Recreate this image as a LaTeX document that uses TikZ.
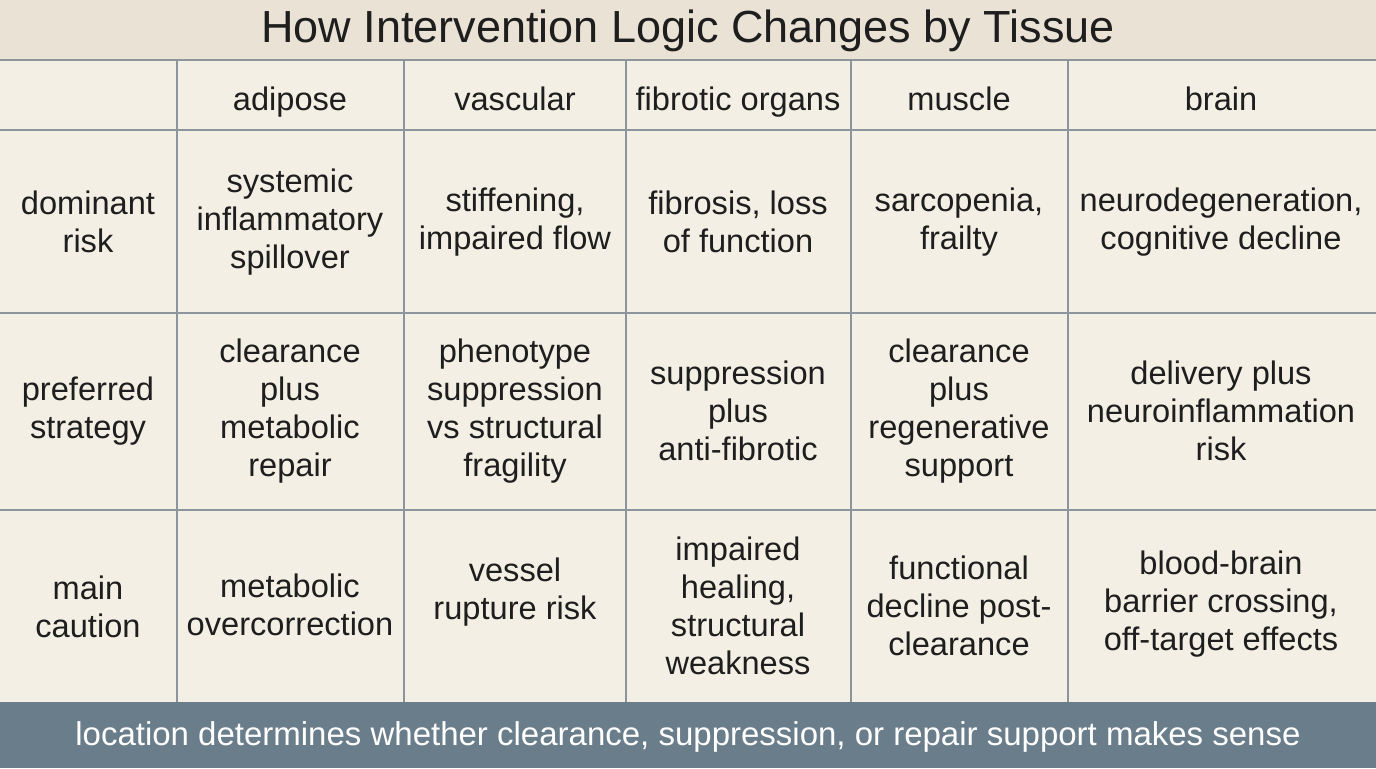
\documentclass[tikz,border=0pt]{standalone}
\usepackage{fontspec}
\setmainfont{Liberation Sans}
\definecolor{bg}{HTML}{F4EFE4}
\definecolor{band}{HTML}{E9E2D5}
\definecolor{foot}{HTML}{697D8A}
\definecolor{grid}{HTML}{8C959C}
\definecolor{ink}{HTML}{1E1E1E}
\begin{document}
\begin{tikzpicture}[x=0.5pt,y=-0.5pt,
  cell/.style={align=center,font=\fontsize{16.3}{19}\selectfont,text=ink,inner sep=0pt},
  hd/.style={cell,anchor=base},
  ln/.style={draw=grid,line width=0.9pt}]
\useasboundingbox (0,0) rectangle (1376,768);
\fill[bg] (0,0) rectangle (1376,768);
\fill[band] (0,0) rectangle (1376,60);
\fill[foot] (0,702) rectangle (1376,768);
\node[cell,font=\fontsize{22.5}{26}\selectfont] (title) at (688,31) {How Intervention Logic Changes by Tissue};
% grid
\foreach \y in {60,130,313,510} \draw[ln] (0,\y) -- (1376,\y);
\foreach \x in {177,404,626,851,1068} \draw[ln] (\x,60) -- (\x,702);
% header
\node[hd] (h1) at (290,110) {adipose};
\node[hd] (h2) at (515,110) {vascular};
\node[hd] (h3) at (738,110) {fibrotic organs};
\node[hd] (h4) at (959,110) {muscle};
\node[hd] (h5) at (1221,110) {brain};
% row 1
\node[cell] (r1) at (88,222) {dominant\\risk};
\node[cell] (a1) at (290,222) {systemic\\inflammatory\\spillover};
\node[cell] (b1) at (515,222) {stiffening,\\impaired flow};
\node[cell] (c1) at (738,222) {fibrosis, loss\\of function};
\node[cell] (d1) at (959,222) {sarcopenia,\\frailty};
\node[cell] (e1) at (1221,222) {neurodegeneration,\\cognitive decline};
% row 2
\node[cell] (r2) at (88,411) {preferred\\strategy};
\node[cell] (a2) at (290,411) {clearance\\plus\\metabolic\\repair};
\node[cell] (b2) at (515,411) {phenotype\\suppression\\vs structural\\fragility};
\node[cell] (c2) at (738,411) {suppression\\plus\\anti-fibrotic};
\node[cell] (d2) at (959,411) {clearance\\plus\\regenerative\\support};
\node[cell] (e2) at (1221,411) {delivery plus\\neuroinflammation\\risk};
% row 3
\node[cell] (r3) at (88,607) {main\\caution};
\node[cell] (a3) at (290,605) {metabolic\\overcorrection};
\node[cell] (b3) at (515,592) {vessel\\rupture risk};
\node[cell] (c3) at (738,606) {impaired\\healing,\\structural\\weakness};
\node[cell] (d3) at (959,606) {functional\\decline post-\\clearance};
\node[cell] (e3) at (1221,604) {blood-brain\\barrier crossing,\\off-target effects};
% footer
\node[cell,text=white,font=\fontsize{16.5}{19}\selectfont] (ft) at (688,737) {location determines whether clearance, suppression, or repair support makes sense};
\end{tikzpicture}
\end{document}
